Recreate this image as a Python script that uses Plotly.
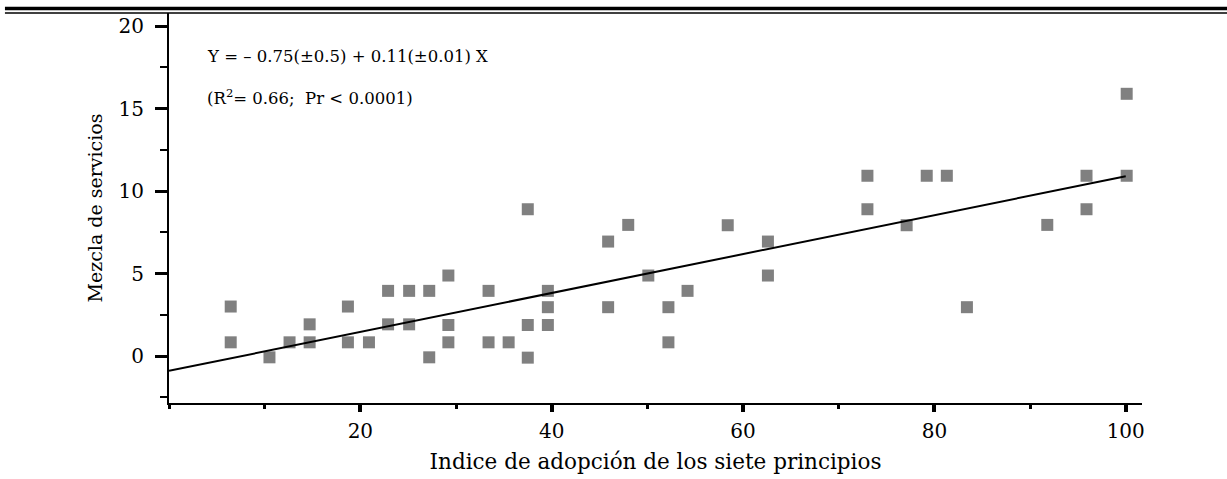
import plotly.graph_objects as go

# Data
adopcion = [6.45, 6.45, 10.5, 12.6, 14.7, 14.7, 18.7, 18.7, 20.9, 22.9, 22.9, 25.1, 25.1,
            27.2, 27.2, 29.2, 29.2, 29.2, 33.4, 33.4, 35.5, 37.5, 37.5, 37.5, 39.6, 39.6,
            39.6, 45.9, 45.9, 48.0, 50.1, 52.2, 52.2, 54.2, 58.4, 62.6, 62.6, 73.0, 73.0,
            77.1, 79.2, 81.3, 83.4, 91.8, 95.9, 95.9, 100.1, 100.1]
servicios = [3.0, 0.83, -0.08, 0.83, 1.92, 0.83, 3.0, 0.83, 0.83, 3.95, 1.92, 3.95, 1.92,
             3.95, -0.08, 4.88, 1.88, 0.83, 3.95, 0.83, 0.83, 8.9, 1.88, -0.1, 3.95, 2.96,
             1.88, 6.94, 2.96, 7.95, 4.88, 2.96, 0.83, 3.95, 7.93, 6.94, 4.88, 10.93, 8.9,
             7.93, 10.93, 10.93, 2.96, 7.95, 10.93, 8.9, 10.93, 15.9]

fit_x = [0, 100]
fit_y = [-0.9, 10.9]

x_tickvals = [20, 40, 60, 80, 100]
x_ticktext = ["20", "40", "60", "80", "100"]
x_minor = [0, 10, 30, 50, 70, 90]
y_tickvals = [0, 5, 10, 15, 20]
y_ticktext = ["0", "5", "10", "15", "20"]
y_minor = [-2.5, 2.5, 7.5, 12.5, 17.5]

eq_line1 = "Y = \u2013 0.75(\u00b10.5) + 0.11(\u00b10.01) X"
eq_line2 = "(R<sup>2</sup>= 0.66;  Pr < 0.0001)"

FONT = "DejaVu Serif"

fig = go.Figure()
fig.add_trace(go.Scatter(
    x=adopcion, y=servicios, mode="markers",
    marker=dict(symbol="square", size=12, color="#808080", line=dict(width=0)),
    showlegend=False, cliponaxis=False))
fig.add_trace(go.Scatter(
    x=fit_x, y=fit_y, mode="lines",
    line=dict(color="black", width=2), showlegend=False))

fig.update_layout(
    width=1227, height=479,
    margin=dict(l=169, r=85, t=13, b=76),
    paper_bgcolor="white", plot_bgcolor="white",
    font=dict(family=FONT, size=17, color="black"),
    xaxis=dict(
        range=[0, 101.7], showgrid=False, zeroline=False, automargin=False,
        showline=True, linecolor="black", linewidth=2,
        tickmode="array", tickvals=x_tickvals, ticktext=x_ticktext,
        ticks="outside", ticklen=7, tickwidth=4, tickcolor="black",
        minor=dict(tickmode="array", tickvals=x_minor,
                   ticks="outside", ticklen=4, tickwidth=3, tickcolor="black"),
        tickfont=dict(family=FONT, size=20),
        ticklabelstandoff=2,
        title=dict(text="Indice de adopción de los siete principios",
                   font=dict(family=FONT, size=21.5), standoff=12),
    ),
    yaxis=dict(
        range=[-2.85, 20.8], showgrid=False, zeroline=False, automargin=False,
        showline=True, linecolor="black", linewidth=2,
        tickmode="array", tickvals=y_tickvals, ticktext=y_ticktext,
        ticks="outside", ticklen=12, tickwidth=3, tickcolor="black",
        minor=dict(tickmode="array", tickvals=y_minor,
                   ticks="outside", ticklen=7, tickwidth=1.5, tickcolor="black"),
        tickfont=dict(family=FONT, size=20),
        ticklabelstandoff=7,
        title=dict(text="Mezcla de servicios",
                   font=dict(family=FONT, size=19), standoff=11),
    ),
    annotations=[
        dict(x=3.76, y=18.15, xref="x", yref="y", text=eq_line1, showarrow=False,
             xanchor="left", yanchor="middle", font=dict(family=FONT, size=16.5)),
        dict(x=3.76, y=15.7, xref="x", yref="y", text=eq_line2, showarrow=False,
             xanchor="left", yanchor="middle", font=dict(family=FONT, size=16.5)),
    ],
    shapes=[
        dict(type="line", xref="paper", yref="paper", x0=-0.1686, x1=1.09,
             y0=1.0115, y1=1.0115, line=dict(color="black", width=3.5)),
        dict(type="line", xref="paper", yref="paper", x0=-0.1686, x1=1.09,
             y0=1.0, y1=1.0, line=dict(color="black", width=1.5)),
    ],
)

fig.write_html("out.html")
